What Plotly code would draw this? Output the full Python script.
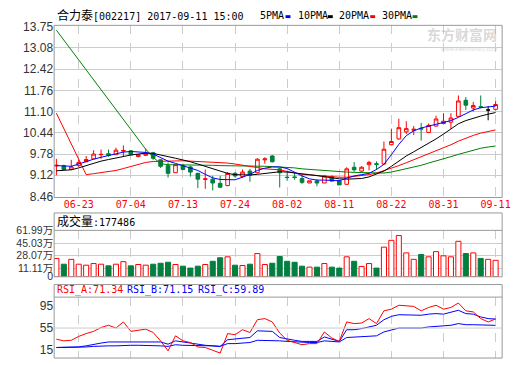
import plotly.graph_objects as go

# ---------------- data ----------------
dates = ["06-20","06-21","06-22","06-23","06-26","06-27","06-28","06-29","06-30",
         "07-03","07-04","07-05","07-06","07-07","07-10","07-11","07-12","07-13","07-14",
         "07-17","07-18","07-19","07-20","07-21","07-24","07-25","07-26","07-27","07-28","07-31",
         "08-01","08-02","08-03","08-04","08-07","08-08","08-09","08-10","08-11",
         "08-14","08-15","08-16","08-17","08-18","08-21","08-22","08-23","08-24","08-25",
         "08-28","08-29","08-30","08-31",
         "09-01","09-04","09-05","09-06","09-07","09-08","09-11"]
tick_labels = ["06-23","07-04","07-13","07-24","08-02","08-11","08-22","08-31","09-11"]

open_ = [9.41,9.42,9.30,9.42,9.54,9.63,9.76,9.79,9.76,9.87,
         9.88,9.70,9.74,9.82,9.60,9.42,9.20,9.42,9.38,9.18,
         8.99,9.00,8.87,8.80,9.18,9.08,9.25,9.20,9.60,9.72,
         9.32,9.06,9.07,9.02,8.88,8.94,8.88,9.08,8.95,8.84,
         9.37,9.25,9.45,9.48,9.47,10.07,10.25,10.47,10.52,10.58,
         10.45,10.65,10.73,10.77,10.95,11.45,11.21,11.25,11.15,11.17]
high = [9.63,9.45,9.60,9.60,9.72,9.90,9.92,9.92,9.98,10.05,
        9.90,9.78,9.95,9.85,9.62,9.52,9.47,9.48,9.42,9.20,
        9.30,9.10,9.10,9.22,9.22,9.30,9.32,9.65,9.68,9.75,
        9.35,9.25,9.20,9.12,8.95,9.00,9.12,9.12,8.97,9.37,
        9.53,9.40,9.57,9.55,10.17,10.57,10.88,10.80,10.65,10.75,
        10.73,10.97,11.05,11.05,11.60,11.55,11.40,11.60,11.27,11.42]
low = [9.12,9.28,9.30,9.38,9.54,9.63,9.63,9.70,9.76,9.72,
       9.74,9.68,9.72,9.60,9.35,9.05,9.20,9.28,9.08,8.72,
       8.70,8.65,8.72,8.78,9.05,9.05,8.92,9.18,9.48,9.52,
       8.74,8.95,8.98,8.85,8.88,8.78,8.88,8.92,8.82,8.82,
       9.23,9.23,9.27,9.30,9.45,10.05,10.23,10.40,10.37,10.20,
       10.43,10.63,10.70,10.57,10.95,11.15,11.10,11.20,10.83,11.13]
close = [9.43,9.30,9.38,9.52,9.61,9.78,9.77,9.74,9.90,9.89,
         9.76,9.76,9.80,9.65,9.40,9.18,9.45,9.30,9.22,9.00,
         9.01,8.88,8.75,9.18,9.10,9.22,9.12,9.62,9.63,9.54,
         9.20,9.05,9.05,8.90,8.95,8.88,9.10,8.94,8.82,9.32,
         9.29,9.37,9.52,9.46,9.93,10.17,10.60,10.57,10.55,10.56,
         10.67,10.87,10.80,10.90,11.43,11.30,11.29,11.24,11.15,11.32]

ma5 = [9.42,9.40,9.40,9.47,9.55,9.62,9.68,9.74,9.79,9.84,
       9.86,9.84,9.83,9.78,9.67,9.56,9.49,9.42,9.35,9.27,
       9.15,9.04,8.99,8.98,8.98,9.06,9.15,9.27,9.34,9.38,
       9.38,9.33,9.21,9.10,9.01,8.97,8.97,8.96,8.95,9.03,
       9.10,9.14,9.18,9.30,9.46,9.76,10.08,10.35,10.50,10.59,
       10.65,10.70,10.76,10.82,10.92,11.04,11.15,11.22,11.24,11.27]
ma10 = [9.26,9.27,9.29,9.35,9.42,9.50,9.56,9.61,9.66,9.71,
        9.75,9.78,9.81,9.80,9.74,9.70,9.65,9.60,9.54,9.47,
        9.40,9.32,9.24,9.18,9.14,9.13,9.13,9.15,9.18,9.21,
        9.23,9.22,9.20,9.17,9.14,9.11,9.07,9.04,9.01,9.00,
        9.00,9.02,9.07,9.15,9.25,9.40,9.57,9.72,9.85,9.98,
        10.12,10.25,10.40,10.55,10.72,10.82,10.90,10.96,11.02,11.07]
ma20 = [11.05,None,None,None,9.14,9.17,9.20,9.23,9.27,9.33,
        9.40,9.46,9.52,9.55,9.56,9.57,9.57,9.57,9.56,9.55,
        9.55,9.54,9.53,9.50,9.47,9.44,9.40,9.36,9.32,9.30,
        9.29,9.24,9.19,9.15,9.13,9.11,9.09,9.07,9.06,9.06,
        9.08,9.10,9.14,9.19,9.26,9.33,9.42,9.51,9.60,9.69,
        9.78,9.87,9.96,10.07,10.18,10.28,10.36,10.43,10.48,10.53]
ma30 = [13.63,None,None,None,None,None,None,None,None,None,
        None,None,9.93,9.68,9.48,9.45,9.45,9.44,9.44,9.44,
        9.43,9.43,9.42,9.42,9.41,9.41,9.40,9.40,9.40,9.39,
        9.38,9.36,9.35,9.32,9.30,9.28,9.26,9.25,9.23,9.22,
        9.21,9.20,9.19,9.18,9.19,9.22,9.27,9.32,9.37,9.43,
        9.50,9.56,9.63,9.70,9.77,9.84,9.91,9.96,10.00,10.03]

volume_wan = [24.5,16.8,23.3,16.8,15.5,17.7,16.8,14.6,16.8,20.2,
              14.6,16.4,15.5,16.8,18.1,19.4,16.4,14.2,11.6,14.2,
              16.4,20.7,25.4,26.7,15.5,15.1,16.8,31.0,16.4,18.1,
              27.1,20.7,19.4,14.2,12.9,12.9,17.7,12.9,11.6,26.7,
              20.7,13.8,17.7,11.6,39.6,48.7,55.1,31.9,23.3,29.7,
              26.7,33.6,28.0,26.7,47.4,31.0,31.9,24.5,23.3,22.0]

rsi_a = [35,32,33,40,45,49,56,60,55,66,
         49,51,53,47,32,14,41,32,29,21,
         20,15,10,45,43,52,47,70,72,66,
         46,33,29,25,27,27,48,37,31,66,
         63,64,72,63,86,89,96,95,94,86,
         92,96,89,92,100,86,84,72,66,71.34]
rsi_b = [20,20,20,21,23,26,28,30,30,31,
         31,31,31,31,30,26,32,30,28,25,
         24,23,22,34,35,37,38,50,50,49,
         38,35,33,31,31,31,39,35,31,52,
         52,54,57,60,70,76,79,79,79,78,
         80,81,80,83,87,81,80,75,72,71.15]
rsi_c = [20,20,20,21,21,22,23,23,23,24,
         24,24,24,24,23,22,25,24,24,23,
         23,23,22,27,27,28,29,33,33,33,
         32,31,30,29,29,29,32,31,30,38,
         39,39,40,41,48,52,55,55,55,55,
         57,58,58,60,63,61,61,61,60,59.89]

price_ticks = [8.46, 9.12, 9.78, 10.44, 11.10, 11.76, 12.42, 13.08, 13.75]
vol_ticks = [0, 11.11, 28.07, 45.03, 61.99]
rsi_ticks = [15, 55, 95]

# ---------------- styling ----------------
W, H = 520, 365
RED = "#ff0000"
GREEN = "#007f3f"
BLUE = "#0000ff"
MONO = "DejaVu Sans Mono, Noto Sans CJK SC, monospace"
SANS = "Liberation Sans, Noto Sans CJK SC, sans-serif"

def px(xp):
    return xp / W

def py(yp):
    return 1 - yp / H

x = list(range(len(dates)))
tick_idx = [dates.index(t) for t in tick_labels]

normal = [i for i in x if open_[i] != close[i]]
doji = [i for i in x if open_[i] == close[i]]

fig = go.Figure()

# candles
fig.add_trace(go.Candlestick(
    x=[x[i] for i in normal], open=[open_[i] for i in normal], high=[high[i] for i in normal],
    low=[low[i] for i in normal], close=[close[i] for i in normal],
    increasing=dict(line=dict(color=RED, width=1), fillcolor="white"),
    decreasing=dict(line=dict(color=GREEN, width=1), fillcolor=GREEN),
    whiskerwidth=0, xaxis="x", yaxis="y", hoverinfo="skip"))
fig.add_trace(go.Candlestick(
    x=[x[i] for i in doji], open=[open_[i] for i in doji], high=[high[i] for i in doji],
    low=[low[i] for i in doji], close=[close[i] for i in doji],
    increasing=dict(line=dict(color="black", width=1), fillcolor="black"),
    decreasing=dict(line=dict(color="black", width=1), fillcolor="black"),
    whiskerwidth=0, xaxis="x", yaxis="y", hoverinfo="skip"))

for vals, col in [(ma30, "#008000"), (ma20, RED), (ma10, "black"), (ma5, BLUE)]:
    fig.add_trace(go.Scatter(x=x, y=vals, mode="lines", connectgaps=True,
                             line=dict(color=col, width=1), xaxis="x", yaxis="y",
                             hoverinfo="skip"))

# volume
up = [i for i in x if close[i] >= open_[i]]
dn = [i for i in x if close[i] < open_[i]]
fig.add_trace(go.Bar(x=[x[i] for i in up], y=[volume_wan[i] for i in up], width=0.68,
                     marker=dict(color="white", line=dict(color=RED, width=1)),
                     xaxis="x2", yaxis="y2", hoverinfo="skip"))
fig.add_trace(go.Bar(x=[x[i] for i in dn], y=[volume_wan[i] for i in dn], width=0.68,
                     marker=dict(color=GREEN, line=dict(color=GREEN, width=1)),
                     xaxis="x2", yaxis="y2", hoverinfo="skip"))

# RSI
for vals, col in [(rsi_c, BLUE), (rsi_b, BLUE), (rsi_a, RED)]:
    fig.add_trace(go.Scatter(x=x, y=vals, mode="lines", line=dict(color=col, width=1),
                             xaxis="x3", yaxis="y3", hoverinfo="skip"))

xdom = [px(55), px(510)]
xr = [-0.30, 59.88]
xcommon = dict(domain=xdom, range=xr, tickmode="array", tickvals=tick_idx,
               showgrid=True, gridcolor="#cccccc", griddash="dash", gridwidth=1,
               zeroline=False, showline=False, ticks="", fixedrange=True)

fig.update_layout(
    width=W, height=H, margin=dict(l=0, r=0, t=0, b=0, pad=0),
    paper_bgcolor="white", plot_bgcolor="white", showlegend=False,
    bargap=0, barmode="overlay",
    xaxis=dict(**xcommon, anchor="y", ticktext=tick_labels,
               tickfont=dict(family=MONO, size=10, color=RED),
               ticklabeloverflow="allow",
               rangeslider=dict(visible=False)),
    xaxis2=dict(**xcommon, anchor="y2", showticklabels=False),
    xaxis3=dict(**xcommon, anchor="y3", showticklabels=False),
    yaxis=dict(domain=[py(198), py(20)], range=[8.43, 13.78], tickmode="array",
               tickvals=price_ticks, ticktext=[f"{v:.2f}" for v in price_ticks],
               showgrid=True, gridcolor="#cccccc", zeroline=False, ticks="",
               ticklabeloverflow="allow", fixedrange=True,
               tickfont=dict(family=SANS, size=12, color="#333333"), anchor="x"),
    yaxis2=dict(domain=[py(280), py(232)], range=[0, 61.99], tickmode="array",
                tickvals=vol_ticks,
                ticktext=["0" if v == 0 else f"{v:.2f}万" for v in vol_ticks],
                showgrid=True, gridcolor="#cccccc", zeroline=False, ticks="",
                ticklabeloverflow="allow", fixedrange=True,
                tickfont=dict(family=SANS, size=10.5, color="#333333"), anchor="x2"),
    yaxis3=dict(domain=[py(364), py(301)], range=[1.09, 110.65], tickmode="array",
                tickvals=rsi_ticks, ticktext=[str(v) for v in rsi_ticks],
                showgrid=False, zeroline=False, ticks="",
                ticklabeloverflow="allow", fixedrange=True,
                tickfont=dict(family=SANS, size=12, color="#333333"), anchor="x3"),
)

shapes = []
frame = dict(color="#999999", width=1)
for top, bot in [(20, 198), (214, 280), (288, 364)]:
    shapes.append(dict(type="rect", xref="paper", yref="paper", x0=px(55), x1=px(510),
                       y0=py(bot), y1=py(top), line=frame, fillcolor="rgba(0,0,0,0)"))
for yy in (232, 301):
    shapes.append(dict(type="line", xref="paper", yref="paper", x0=px(55), x1=px(510),
                       y0=py(yy), y1=py(yy), line=frame))
shapes.append(dict(type="line", xref="paper", yref="y3", x0=px(55), x1=px(510),
                   y0=55, y1=55, line=dict(color="#cccccc", width=1)))
# legend colour marks
for xl, col in [(290, BLUE), (333, "black"), (376, RED), (419, "#008000")]:
    shapes.append(dict(type="rect", xref="paper", yref="paper", x0=px(xl), x1=px(xl + 5),
                       y0=py(12.5), y1=py(9.5), line=dict(width=0), fillcolor=col))
fig.update_layout(shapes=shapes)

ann = []
def text(xp, yp, s, color="black", size=10, family=MONO, anchor="left"):
    ann.append(dict(xref="paper", yref="paper", x=px(xp), y=py(yp), text=s, showarrow=False,
                    xanchor=anchor, yanchor="middle", font=dict(family=family, size=size, color=color)))

text(56, 10, '<span style="font-size:12px">合力泰</span>[002217] 2017-09-11 15:00')
text(262, 10, "5PMA")
text(301, 10, "10PMA")
text(342, 10, "20PMA")
text(386, 10, "30PMA")
text(56, 223, '<span style="font-size:12px">成交量</span>:177486')
text(56, 294, "RSI_A:71.34", color=RED)
text(127, 294, "RSI_B:71.15", color=BLUE)
text(199, 294, "RSI_C:59.89", color=BLUE)
text(507, 29, "<b>东方财富网</b>", color="rgba(170,170,170,0.45)", size=14,
     family="Noto Sans CJK SC", anchor="right")
text(507, 44, "www.eastmoney.com", color="rgba(170,170,170,0.45)", size=6,
     family="Liberation Sans", anchor="right")
fig.update_layout(annotations=ann)

fig.write_html("out.html",
               config={"displayModeBar": False, "staticPlot": True},
               post_script="document.body.style.margin='0';document.body.style.padding='0';"
                           "document.documentElement.style.overflow='hidden';")
